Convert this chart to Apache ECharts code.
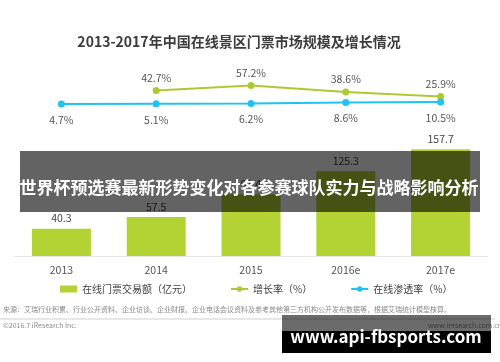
<!DOCTYPE html>
<html>
<head>
<meta charset="utf-8">
<script src="https://cdn.jsdelivr.net/npm/echarts@6/dist/echarts.min.js"></script>
<style>html,body{margin:0;padding:0;background:#fff}#c{width:500px;height:362px}</style>
</head>
<body>
<div id="c"></div>
<script>
var categories = ['2013', '2014', '2015', '2016e', '2017e'];
var turnover = [40.3, 57.5, 91.4, 125.3, 157.7];
var growthRate = [null, 42.7, 57.2, 38.6, 25.9];
var penetration = [4.7, 5.1, 6.2, 8.6, 10.5];
var seriesNames = ['在线门票交易额（亿元）', '增长率（%）', '在线渗透率（%）'];

var FONT = '"Noto Sans CJK SC", "Noto Sans", sans-serif';
var GREEN = '#b3d234';
var LGREEN = '#acc934';
var CYAN = '#1ec3f2';

var chart = echarts.init(document.getElementById('c'), null, {renderer: 'canvas'});
chart.setOption({
  animation: false,
  backgroundColor: '#fff',
  textStyle: {fontFamily: FONT},
  title: {
    text: '2013-2017年中国在线景区门票市场规模及增长情况',
    left: 239, top: 35, textAlign: 'center', padding: 0,
    textStyle: {fontSize: 14, fontWeight: 'bold', color: '#3c3c3c', fontFamily: FONT}
  },
  legend: {
    left: 60, top: 284, padding: 0, itemWidth: 17, itemHeight: 7, itemGap: 38,
    textStyle: {fontSize: 10, color: '#404040', fontFamily: FONT},
    data: [
      {name: seriesNames[0], icon: 'rect', itemStyle: {color: GREEN}},
      {name: seriesNames[1]},
      {name: seriesNames[2]}
    ]
  },
  grid: [
    {left: 14, width: 474, top: 80, bottom: 106},
    {left: 14, width: 474, top: 60, height: 45.6}
  ],
  xAxis: [
    {type: 'category', gridIndex: 0, data: categories,
     axisLine: {lineStyle: {color: '#e6e6e6', width: 1}}, axisTick: {show: false},
     axisLabel: {fontSize: 10.5, color: '#555', margin: 9, fontFamily: FONT}},
    {type: 'category', gridIndex: 1, data: categories, show: false}
  ],
  yAxis: [
    {type: 'value', gridIndex: 0, min: 0, max: 260, show: false, splitLine: {show: false}},
    {type: 'value', gridIndex: 1, min: 0, max: 130, show: false, splitLine: {show: false}}
  ],
  series: [
    {name: seriesNames[0], type: 'bar', xAxisIndex: 0, yAxisIndex: 0, data: turnover,
     barWidth: 59, itemStyle: {color: GREEN},
     label: {show: true, position: 'top', distance: 5, fontSize: 10.5, color: '#444', fontFamily: FONT}},
    {name: seriesNames[1], type: 'line', xAxisIndex: 1, yAxisIndex: 1, data: growthRate,
     symbol: 'circle', symbolSize: 7, itemStyle: {color: LGREEN}, lineStyle: {color: LGREEN, width: 2},
     label: {show: true, position: 'top', distance: 4, fontSize: 10.5, color: '#555', fontFamily: FONT,
       formatter: function (p) { return p.value.toFixed(1) + '%'; }}},
    {name: seriesNames[2], type: 'line', xAxisIndex: 1, yAxisIndex: 1, data: penetration,
     symbol: 'circle', symbolSize: 7, itemStyle: {color: CYAN}, lineStyle: {color: CYAN, width: 2},
     label: {show: true, position: 'bottom', distance: 7, fontSize: 10.5, color: '#555', fontFamily: FONT,
       formatter: function (p) { return p.value.toFixed(1) + '%'; }}}
  ],
  graphic: [
    {type: 'text', left: 3, top: 306, z: 10, style: {
      text: '来源：艾瑞行业积累、行业公开资料、企业访谈、企业财报、企业电话会议资料及参考其他第三方机构公开发布数据等，根据艾瑞统计模型核算。',
      font: '7px ' + FONT, fill: '#8a8a8a'}},
    {type: 'line', z: 10, shape: {x1: 0, y1: 319, x2: 495, y2: 319}, style: {stroke: '#cfcfcf', lineWidth: 1}},
    {type: 'text', left: 3, top: 322, z: 10, style: {text: '©2016.7 iResearch Inc.', font: '7px ' + FONT, fill: '#8a8a8a'}},
    {type: 'text', right: -2, top: 322, z: 10, style: {text: 'www.iresearch.com.cn', font: '7px ' + FONT, fill: '#8a8a8a'}},
    {type: 'rect', z: 100, shape: {x: 20, y: 151, width: 460, height: 61}, style: {fill: 'rgba(0,0,0,0.61)'}},
    {type: 'text', z: 101, x: 249, y: 188, style: {
      text: '世界杯预选赛最新形势变化对各参赛球队实力与战略影响分析',
      font: 'bold 17px ' + FONT, fill: '#fff', align: 'center', verticalAlign: 'middle'}},
    {type: 'rect', z: 100, shape: {x: 282, y: 315, width: 209, height: 16}, style: {fill: 'rgba(0,0,0,0.58)'}},
    {type: 'rect', z: 100, shape: {x: 282, y: 331, width: 209, height: 22}, style: {fill: '#000'}},
    {type: 'text', z: 101, x: 386, y: 337, style: {
      text: 'www.api-fbsports.com',
      font: 'bold 17px ' + FONT, fill: '#fff', align: 'center', verticalAlign: 'middle'}}
  ]
});
</script>
</body>
</html>
